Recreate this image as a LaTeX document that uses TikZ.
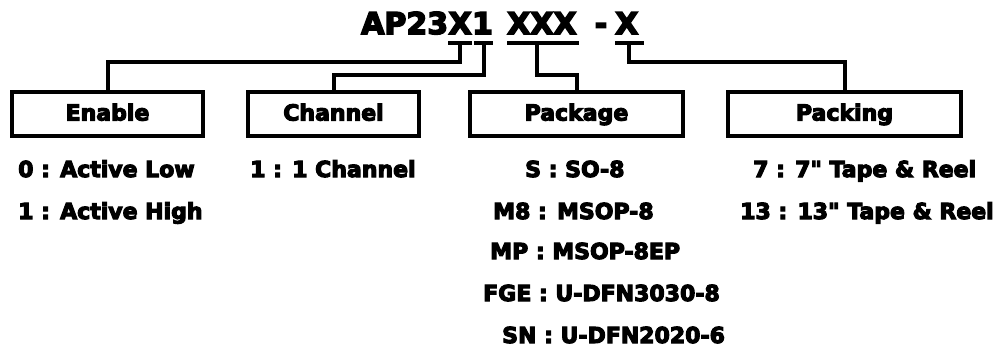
\documentclass[tikz,border=0pt]{standalone}
\usepackage{fontspec}
\newfontfamily\bodyfont[FakeBold=5]{DejaVu Sans Bold}
\usetikzlibrary{calc}
\begin{document}
\begin{tikzpicture}[x=1pt,y=-1pt,
  ttl/.style={inner sep=0pt,anchor=base west,font=\bodyfont\fontsize{30}{30}\selectfont},
  lbl/.style={inner sep=0pt,anchor=base west,font=\bodyfont\fontsize{22}{22}\selectfont},
  boxlbl/.style={draw,line width=4pt,minimum height=44pt,inner sep=0pt,text height=16pt,text depth=2pt,font=\bodyfont\fontsize{22}{22}\selectfont},
  ul/.style={line width=4pt},
  conn/.style={line width=4pt}]
\useasboundingbox (0,0) rectangle (998,351);
% title
\node[ttl] (tAP) at (361,34) {AP23};
\node[ttl] (tX) at (tAP.base east) {X};
\node[ttl] (t1) at (tX.base east) {1};
\node[ttl] (tXXX) at (507,34) {XXX};
\node[ttl,anchor=base] (tdash) at (601,34) {-};
\node[ttl] (tX2) at (615,34) {X};
% underlines
\draw[ul] ($(tX.base west)+(0,8.5)$) coordinate (uXa) -- ($(tX.base east)+(0,8.5)$) coordinate (uXb);
\draw[ul] ($(t1.base west)+(2,8.5)$) coordinate (u1a) -- ($(t1.base east)+(0,8.5)$) coordinate (u1b);
\draw[ul] ($(tXXX.base west)+(0,8.5)$) coordinate (uXXXa) -- ($(tXXX.base east)+(2,8.5)$) coordinate (uXXXb);
\draw[ul] ($(tX2.base west)+(0,8.5)$) coordinate (uX2a) -- ($(tX2.base east)+(5,8.5)$) coordinate (uX2b);
\coordinate (uX) at ($(uXa)!0.5!(uXb)$);
\coordinate (u1) at ($(u1a)!0.5!(u1b)$);
\coordinate (uXXX) at ($(uXXXa)!0.42!(uXXXb)$);
\coordinate (uX2) at ($(uX2a)!0.5!(uX2b)$);
% boxes
\node[boxlbl,minimum width=191pt] (enable) at (107.5,113.5) {Enable};
\node[boxlbl,minimum width=171pt] (channel) at (333.5,113.5) {Channel};
\node[boxlbl,minimum width=213pt] (package) at (576.5,113.5) {Package};
\node[boxlbl,minimum width=233pt] (packing) at (844.5,113.5) {Packing};
% connectors
\draw[conn] (uX) -- ++(0,19) -| (enable.north);
\draw[conn] (u1) -- ++(0,32) -| (channel.north);
\draw[conn] (uXXX) -- ++(0,32) -| (package.north);
\draw[conn] (uX2) -- ++(0,19) -| (packing.north);
% options
\node[lbl] (e0) at (18,177) {0 : Active Low};
\node[lbl] (e1) at (18,219) {1 : Active High};
\node[lbl] (c1) at (250,177) {1 : 1 Channel};
\node[lbl] (pS) at (525,177) {S : SO-8};
\node[lbl] (pM8) at (493,219) {M8 : MSOP-8};
\node[lbl] (pMP) at (490,259) {MP : MSOP-8EP};
\node[lbl] (pFGE) at (483,301) {FGE : U-DFN3030-8};
\node[lbl] (pSN) at (502,343) {SN : U-DFN2020-6};
\node[lbl] (k7) at (753,177) {7 : 7" Tape \& Reel};
\node[lbl] (k13) at (740,219) {13 : 13" Tape \& Reel};
\end{tikzpicture}
\end{document}
